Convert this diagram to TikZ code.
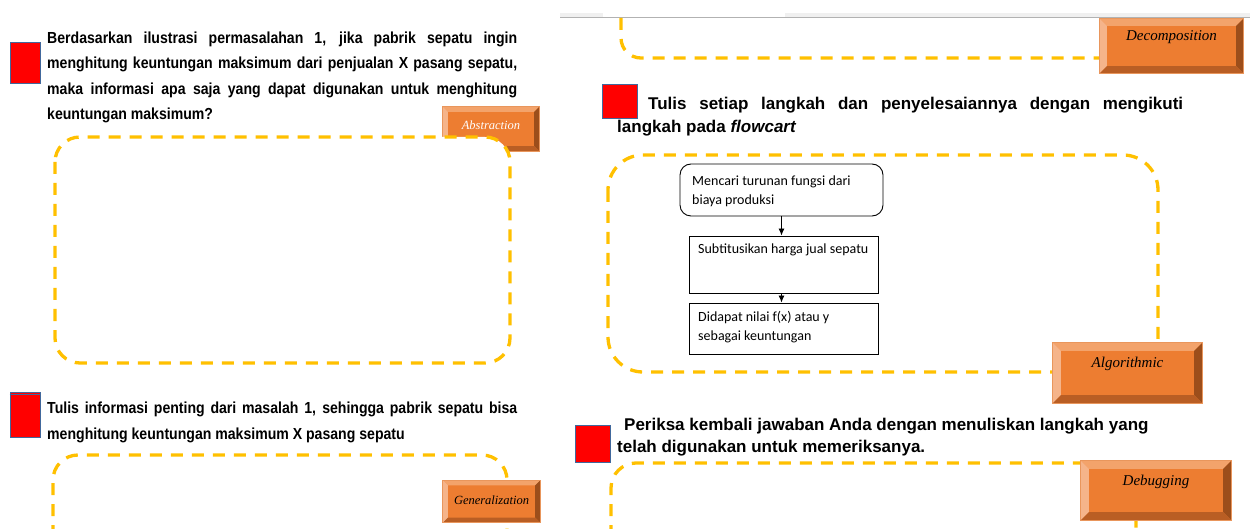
\documentclass[tikz,border=0pt]{standalone}
\usepackage{fontspec}
\setmainfont{Liberation Sans}
\newfontfamily\narrowfont[FakeStretch=0.88]{Liberation Sans}
\newfontfamily\btnfont{Liberation Serif}
\newfontfamily\flowfont{Carlito}
\usepackage{tikz}
\usetikzlibrary{arrows.meta,%
                positioning}

\definecolor{dashyellow}{HTML}{FFC000}
\definecolor{btnorange}{HTML}{ED7D31}
\definecolor{bvtop}{HTML}{F3A36B}
\definecolor{bvleft}{HTML}{F5B48A}
\definecolor{bvright}{HTML}{9C4E1B}
\definecolor{bvbottom}{HTML}{B95E24}
\definecolor{bvline}{HTML}{E9965C}
\definecolor{sqred}{HTML}{FF0000}
\definecolor{sqedge}{HTML}{41689C}

\newcommand\bevel[2]{%
  \fill[bvtop] (#1.north west) -- (#1.north east) -- ([xshift=-#2,yshift=-#2]#1.north east) -- ([xshift=#2,yshift=-#2]#1.north west) -- cycle;
  \fill[bvleft] (#1.north west) -- ([xshift=#2,yshift=-#2]#1.north west) -- ([xshift=#2,yshift=#2]#1.south west) -- (#1.south west) -- cycle;
  \fill[bvright] (#1.north east) -- ([xshift=-#2,yshift=-#2]#1.north east) -- ([xshift=-#2,yshift=#2]#1.south east) -- (#1.south east) -- cycle;
  \fill[bvbottom] (#1.south west) -- ([xshift=#2,yshift=#2]#1.south west) -- ([xshift=-#2,yshift=#2]#1.south east) -- (#1.south east) -- cycle;
  \draw[bvline,line width=0.8pt] (#1.north west) rectangle (#1.south east);}

\begin{document}
\begin{tikzpicture}[x=1pt,y=-1pt,
  dashbox/.style={draw=dashyellow,line width=3.3pt,dash pattern=on 12pt off 9pt,rounded corners=25pt},
  btn/.style={fill=btnorange,inner sep=0pt},
  btntext/.style={font=\btnfont\itshape\fontsize{15}{18}\selectfont,inner sep=0pt},
  smallbtn/.style={font=\btnfont\itshape\fontsize{12.5}{15}\selectfont},
  redsq/.style={fill=sqred,draw=sqedge,line width=0.9pt,inner sep=0pt},
  qline/.style={font=\narrowfont\bfseries\fontsize{16}{19}\selectfont,inner sep=0pt,anchor=base west},
  qlineR/.style={font=\bfseries\fontsize{17}{20}\selectfont,inner sep=0pt,anchor=base west},
  fbox/.style={draw,line width=0.9pt,inner sep=0pt},
  ftext/.style={font=\flowfont\fontsize{14}{17}\selectfont,inner sep=0pt,anchor=base west},
  flowarrow/.style={-{Latex[length=7pt,width=6pt]},line width=0.9pt}]
\useasboundingbox (0,0) rectangle (1250,529);
\clip (0,0) rectangle (1250,529);

\fill[gray!12] (560,13) rectangle (603,17);
\fill[gray!12] (785,13) rectangle (1250,17);
\draw[gray!60,line width=0.8pt] (560,17.5) -- (1250,17.5);

\node[btn,minimum width=96pt,minimum height=44pt] (abstr) at (491,129) {};
\bevel{abstr}{5pt}
\node[btntext,smallbtn,text=white] (abstrt) at ([yshift=4pt]abstr.center) {Abstraction};
\draw[dashbox,fill=white] (55,137) rectangle (510,363);

\draw[dashbox] (53,600) -- (53,455) -- (507,455) -- (507,600);
\node[btn,minimum width=97pt,minimum height=42pt] (gener) at (491.5,501.5) {};
\bevel{gener}{5pt}
\node[btntext,smallbtn] (genert) at ([yshift=1pt]gener.center) {Generalization};

\node[redsq,minimum width=30pt,minimum height=41pt] (sq1) at (25,62.5) {};
\node[qline] (q1a) at (47,43.5) {\makebox[470pt][s]{Berdasarkan ilustrasi permasalahan 1, jika pabrik sepatu ingin}};
\node[qline] (q1b) at (47,69) {\makebox[470pt][s]{menghitung keuntungan maksimum dari penjualan X pasang sepatu,}};
\node[qline] (q1c) at (47,94.5) {\makebox[470pt][s]{maka informasi apa saja yang dapat digunakan untuk menghitung}};
\node[qline] (q1d) at (47,120) {keuntungan maksimum?};

\node[redsq,minimum width=30pt,minimum height=45pt] (sq2) at (25,414.5) {};
\draw[sqedge,line width=0.9pt] ([yshift=-3pt]sq2.north west) -- ([yshift=-3pt]sq2.north east);
\node[qline] (q2a) at (47,413.5) {\makebox[470pt][s]{Tulis informasi penting dari masalah 1, sehingga pabrik sepatu bisa}};
\node[qline] (q2b) at (47,439) {menghitung keuntungan maksimum X pasang sepatu};

\draw[dashbox,rounded corners=20pt] (621,18) -- (621,58) -- (1130,58);
\node[btn,minimum width=143pt,minimum height=54pt] (decomp) at (1171.5,46) {};
\bevel{decomp}{7pt}
\node[btntext] (decompt) at ([yshift=9pt]decomp.center) {Decomposition};

\node[redsq,minimum width=35pt,minimum height=34pt] (sq3) at (619.5,101) {};
\node[qlineR] (q3a) at (648,110) {\makebox[535pt][s]{Tulis setiap langkah dan penyelesaiannya dengan mengikuti}};
\node[qlineR] (q3b) at (617,133) {langkah pada \textit{flowcart}};

\draw[dashbox,rounded corners=35pt] (608,155) rectangle (1158,372);
\node[fbox,rounded corners=11pt,minimum width=203pt,minimum height=52pt] (turunan) at (781.5,190) {};
\node[ftext] (turunana) at (692,186) {Mencari turunan fungsi dari};
\node[ftext] (turunanb) at (692,205) {biaya produksi};
\node[fbox,minimum width=189pt,minimum height=57pt] (subst) at (783.5,264.5) {};
\node[ftext] (substa) at (698,254) {Subtitusikan harga jual sepatu};
\node[fbox,minimum width=189pt,minimum height=51pt] (nilai) at (783.5,328.5) {};
\node[ftext] (nilaia) at (698,322) {Didapat nilai f(x) atau y};
\node[ftext] (nilaib) at (698,341) {sebagai keuntungan};
\draw[flowarrow] (turunan.south) -- (turunan.south |- subst.north);
\draw[flowarrow] (subst.south -| turunan.south) -- (nilai.north -| turunan.south);
\node[btn,minimum width=149pt,minimum height=60pt] (algo) at (1127.5,373) {};
\bevel{algo}{8pt}
\node[btntext] (algot) at ([yshift=9pt]algo.center) {Algorithmic};

\node[redsq,minimum width=35pt,minimum height=37pt] (sq4) at (592.5,443.5) {};
\node[qlineR] (q4a) at (624,430) {Periksa kembali jawaban Anda dengan menuliskan langkah yang};
\node[qlineR] (q4b) at (617,452) {telah digunakan untuk memeriksanya.};

\draw[dashbox] (611,600) -- (611,463) -- (1136,463) -- (1136,600);
\node[btn,minimum width=150pt,minimum height=59pt] (debug) at (1156,490.5) {};
\bevel{debug}{8pt}
\node[btntext] (debugt) at ([yshift=8.5pt]debug.center) {Debugging};
\end{tikzpicture}
\end{document}
